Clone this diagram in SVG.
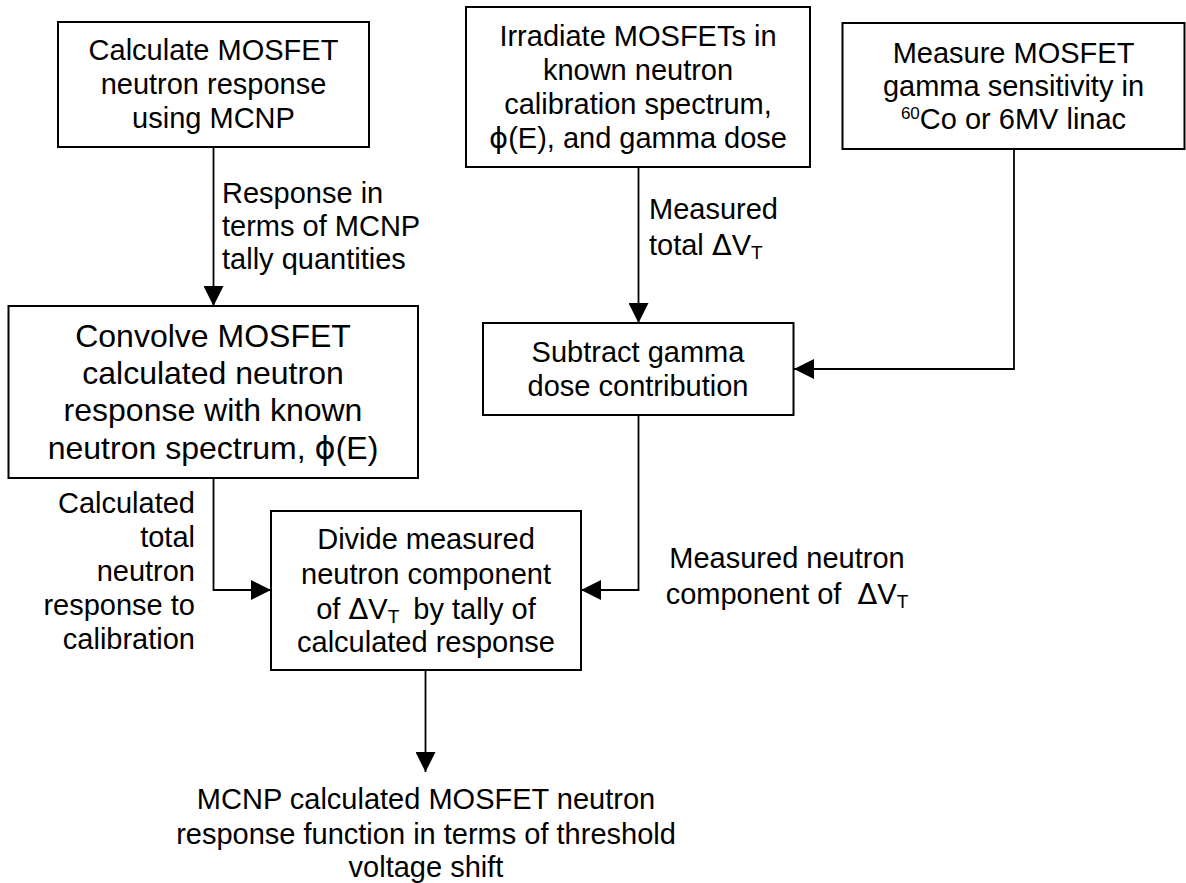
<svg xmlns="http://www.w3.org/2000/svg" width="1186" height="883" viewBox="0 0 1186 883">
<defs>
<style>
text{font-family:"Liberation Sans",Arial,sans-serif;font-size:29px;fill:#000}
.c{text-anchor:middle}
.e{text-anchor:end}
.big{font-size:32px}
.box{fill:#fff;stroke:#000;stroke-width:2}
.ln{fill:none;stroke:#000;stroke-width:1.8}
.sub{font-size:19px}
.sym{font-family:"DejaVu Sans","Liberation Sans",sans-serif}
</style>
<marker id="ah" markerUnits="userSpaceOnUse" markerWidth="20" markerHeight="20" refX="20" refY="10" orient="auto" viewBox="0 0 20 20">
<path d="M0,0 L20,10 L0,20 Z" fill="#000"/>
</marker>
</defs>
<rect width="1186" height="883" fill="#fff"/>
<g id="connectors">
<path class="ln" d="M213.5,147 V306" marker-end="url(#ah)"/>
<path class="ln" d="M638.5,167 V323" marker-end="url(#ah)"/>
<path class="ln" d="M1014,149 V369 H794" marker-end="url(#ah)"/>
<path class="ln" d="M213.5,466 V590 H271" marker-end="url(#ah)"/>
<path class="ln" d="M638.5,415 V590 H581" marker-end="url(#ah)"/>
<path class="ln" d="M425.5,670 V772" marker-end="url(#ah)"/>
</g>
<g id="n1">
<rect class="box" x="58" y="22" width="311" height="125"/>
<text class="c" x="213.5" y="60">Calculate MOSFET</text>
<text class="c" x="213.5" y="93.5">neutron response</text>
<text class="c" x="213.5" y="127.5">using MCNP</text>
</g>
<g id="n2">
<rect class="box" x="466" y="7" width="344" height="160"/>
<text class="c" x="638" y="46">Irradiate MOSFETs in</text>
<text class="c" x="638" y="80">known neutron</text>
<text class="c" x="638" y="114">calibration spectrum,</text>
<text class="c" x="638" y="148"><tspan class="sym">ϕ</tspan>(E), and gamma dose</text>
</g>
<g id="n3">
<rect class="box" x="842.5" y="23" width="342" height="126"/>
<text class="c" x="1013.5" y="62.5">Measure MOSFET</text>
<text class="c" x="1013.5" y="95.5">gamma sensitivity in</text>
<text class="c" x="1013.5" y="128.5"><tspan font-size="17" dy="-10">60</tspan><tspan dy="10">Co or 6MV linac</tspan></text>
</g>
<g id="n4">
<rect class="box" x="8.5" y="306" width="409.5" height="172"/>
<text class="c big" x="213" y="346.5">Convolve MOSFET</text>
<text class="c big" x="213" y="383.5">calculated neutron</text>
<text class="c big" x="213" y="421">response with known</text>
<text class="c big" x="213" y="459">neutron spectrum, <tspan class="sym">ϕ</tspan>(E)</text>
</g>
<g id="n5">
<rect class="box" x="483" y="323" width="310.5" height="92"/>
<text class="c" x="638" y="361.5">Subtract gamma</text>
<text class="c" x="638" y="395.5">dose contribution</text>
</g>
<g id="n6">
<rect class="box" x="271" y="511" width="310" height="159"/>
<text class="c" x="426" y="548.5">Divide measured</text>
<text class="c" x="426" y="583.5">neutron component</text>
<text class="c" x="426" y="618.5">of <tspan class="sym">Δ</tspan>V<tspan class="sub" dy="4">T</tspan><tspan dy="-4" dx="14">by tally of</tspan></text>
<text class="c" x="426" y="652">calculated response</text>
</g>
<g id="n7">
<text class="c" x="426" y="808.5">MCNP calculated MOSFET neutron</text>
<text class="c" x="426" y="843.5">response function in terms of threshold</text>
<text class="c" x="426" y="877">voltage shift</text>
</g>
<g id="labels">
<text x="222" y="203">Response in</text>
<text x="222" y="236">terms of MCNP</text>
<text x="222" y="269">tally quantities</text>
<text x="649" y="218.5">Measured</text>
<text x="649" y="255">total <tspan class="sym">Δ</tspan>V<tspan class="sub" dy="4">T</tspan></text>
<text class="e" x="195" y="513">Calculated</text>
<text class="e" x="195" y="547">total</text>
<text class="e" x="195" y="581">neutron</text>
<text class="e" x="195" y="615">response to</text>
<text class="e" x="195" y="649">calibration</text>
<text class="c" x="787" y="568">Measured neutron</text>
<text class="c" x="787" y="603.5">component of <tspan class="sym" dx="8">Δ</tspan>V<tspan class="sub" dy="4">T</tspan></text>
</g>
</svg>
